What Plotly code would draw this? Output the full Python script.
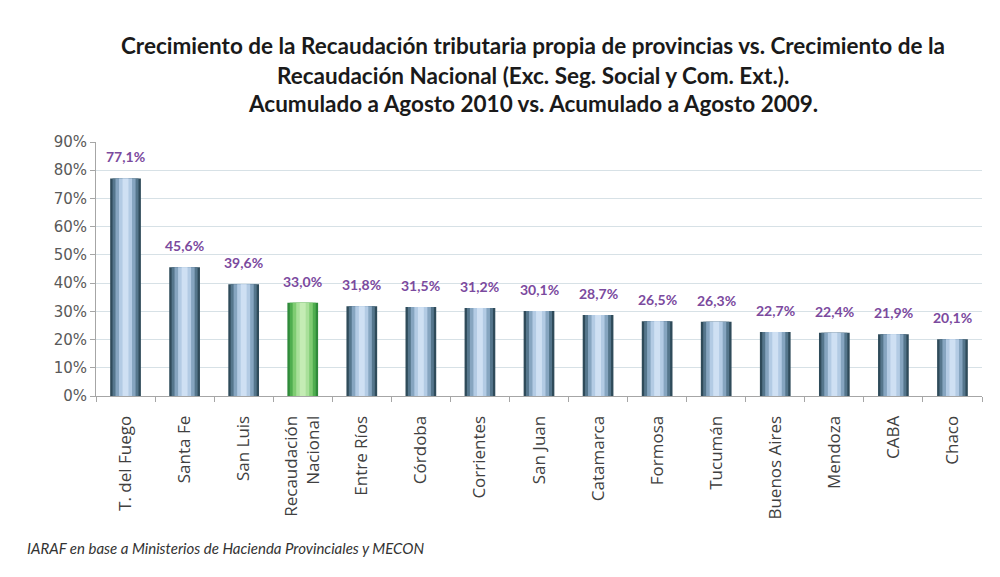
import plotly.graph_objects as go

categories = ["T. del Fuego", "Santa Fe", "San Luis", "Recaudación<br>Nacional", "Entre Ríos",
              "Córdoba", "Corrientes", "San Juan", "Catamarca", "Formosa", "Tucumán",
              "Buenos Aires", "Mendoza", "CABA", "Chaco"]
values = [77.1, 45.6, 39.6, 33.0, 31.8, 31.5, 31.2, 30.1, 28.7, 26.5, 26.3, 22.7, 22.4, 21.9, 20.1]
highlight = "Recaudación<br>Nacional"
y_ticks = [0, 10, 20, 30, 40, 50, 60, 70, 80, 90]
y_tick_labels = [f"{v}%" for v in y_ticks]
value_labels = [f"{v:.1f}".replace(".", ",") + "%" for v in values]

blue_layers = ["#2f4b5a", "#55768c", "#86a5c0", "#b3cbe4", "#cfe0f3"]
green_layers = ["#2f8a3a", "#4fae4f", "#7fcc72", "#a9e09a", "#c4ecb4"]
widths = [0.52, 0.44, 0.34, 0.22, 0.1]

W, H = 1000, 577
l, r, t, b = 96, 18, 142, 181
pw, ph = W - l - r, H - t - b

fig = go.Figure()
for i, w in enumerate(widths):
    colors = [green_layers[i] if c == highlight else blue_layers[i] for c in categories]
    fig.add_trace(go.Bar(
        x=categories, y=values, width=w,
        marker=dict(color=colors, line=dict(width=0)),
        hoverinfo="skip", showlegend=False,
    ))

annotations = []
for c, v, lab in zip(categories, values, value_labels):
    annotations.append(dict(x=c, y=v, xref="x", yref="y", text=f"<b>{lab}</b>",
                            showarrow=False, yanchor="bottom", yshift=11,
                            font=dict(family="Lato", size=14, color="#7b4a9e")))

title_lines = [
    ("<b>Crecimiento de la Recaudación tributaria propia de provincias vs. Crecimiento de la</b>", 45),
    ("<b>Recaudación Nacional (Exc. Seg. Social y Com. Ext.).</b>", 75),
    ("<b>Acumulado a Agosto 2010 vs. Acumulado a Agosto 2009.</b>", 103),
]
for txt, py in title_lines:
    annotations.append(dict(text=txt, x=(533 - l) / pw, y=(H - b - py) / ph,
                            xref="paper", yref="paper", xanchor="center", yanchor="middle",
                            showarrow=False, font=dict(family="Lato", size=22.5, color="#1a1a1a")))

annotations.append(dict(text="<i>IARAF en base a Ministerios de Hacienda Provinciales y MECON</i>",
                        x=(25 - l) / pw, y=(H - b - 548) / ph, xref="paper", yref="paper",
                        xanchor="left", yanchor="middle", showarrow=False,
                        font=dict(family="Lato", size=15, color="#333333")))

fig.update_layout(
    width=W, height=H,
    margin=dict(l=l, r=r, t=t, b=b),
    barmode="overlay",
    paper_bgcolor="white", plot_bgcolor="white",
    font=dict(family="Open Sans", color="#595959"),
    xaxis=dict(
        tickangle=-90, tickfont=dict(size=17, color="#404040", family="Open Sans"),
        showline=True, linecolor="#a6a6a6", linewidth=1,
        ticks="outside", tickson="boundaries", ticklen=5, tickcolor="#a6a6a6",
        ticklabelstandoff=12,
        showgrid=False,
    ),
    yaxis=dict(
        range=[0, 90], tickvals=y_ticks, ticktext=y_tick_labels,
        tickfont=dict(size=15, color="#595959", family="DejaVu Sans"),
        showline=True, linecolor="#a6a6a6", linewidth=1,
        ticks="outside", ticklen=5, tickcolor="#a6a6a6",
        showgrid=True, gridcolor="#d7e1e6", gridwidth=1, zeroline=False,
    ),
    annotations=annotations,
)

fig.write_html("out.html")
